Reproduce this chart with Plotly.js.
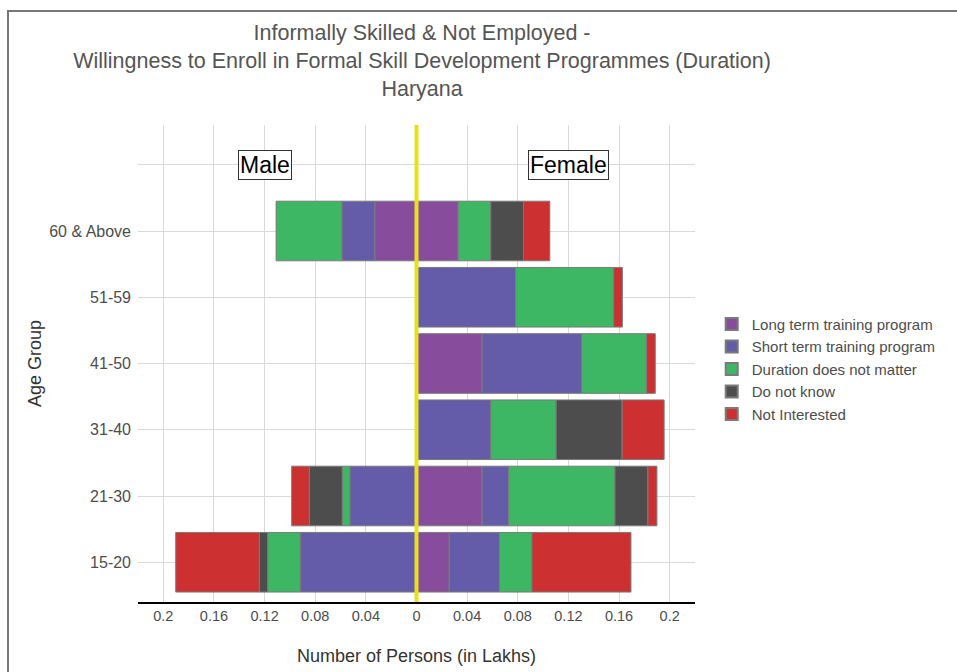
<!DOCTYPE html>
<html>
<head>
<meta charset="utf-8">
<script src="https://cdn.plot.ly/plotly-3.0.1.min.js"></script>
<style>
  html, body { margin: 0; padding: 0; background: #fff; }
  #wrap { position: relative; width: 957px; height: 672px; }
  #chart { position: absolute; left: 0; top: 0; width: 957px; height: 672px; }
  #frame { position: absolute; left: 7px; top: 10px; width: 950px; height: 662px;
           border-top: 2px solid #777; border-left: 2px solid #777; pointer-events: none; }
</style>
</head>
<body>
<div id="wrap">
  <div id="chart"></div>
  <div id="frame"></div>
</div>
<script>
// Age groups (bottom to top); last blank level holds the Male/Female labels
const ageGroups = ['15-20', '21-30', '31-40', '41-50', '51-59', '60 & Above', ' '];

const seriesNames = ['Long term training program', 'Short term training program',
                     'Duration does not matter', 'Do not know', 'Not Interested'];
const seriesColors = ['#884C9D', '#645CA8', '#3EB764', '#4D4D4D', '#CC3030'];

// Values in lakhs (null = no bar)
const maleLong     = [null,   null,   null, null, null, 0.0329];
const maleShort    = [0.0919, 0.0526, null, null, null, 0.0260];
const maleDuration = [0.0257, 0.0061, null, null, null, 0.0520];
const maleDNK      = [0.0066, 0.0260, null, null, null, null];
const maleNI       = [0.0660, 0.0139, null, null, null, null];

const femaleLong     = [0.0258, 0.0518, null,   0.0518, null,   0.0329];
const femaleShort    = [0.0397, 0.0208, 0.0587, 0.0787, 0.0782, null];
const femaleDuration = [0.0257, 0.0842, 0.0516, 0.0513, 0.0776, 0.0258];
const femaleDNK      = [null,   0.0260, 0.0521, null,   null,   0.0258];
const femaleNI       = [0.0782, 0.0071, 0.0332, 0.0068, 0.0068, 0.0208];

const maleSeries = [maleLong, maleShort, maleDuration, maleDNK, maleNI];
const femaleSeries = [femaleLong, femaleShort, femaleDuration, femaleDNK, femaleNI];

const tickVals = [-0.2, -0.16, -0.12, -0.08, -0.04, 0, 0.04, 0.08, 0.12, 0.16, 0.2];
const tickText = ['0.2', '0.16', '0.12', '0.08', '0.04', '0', '0.04', '0.08', '0.12', '0.16', '0.2'];

const yCats = ageGroups.slice(0, 6);
const traces = [];
seriesNames.forEach((name, i) => {
  traces.push({
    type: 'bar', orientation: 'h', name: name, legendgroup: name, showlegend: true,
    y: yCats, x: maleSeries[i].map(v => v === null ? null : -v),
    width: 0.9,
    marker: { color: seriesColors[i], line: { color: '#7A7A7A', width: 1 } },
    hoverinfo: 'skip'
  });
  traces.push({
    type: 'bar', orientation: 'h', name: name, legendgroup: name, showlegend: false,
    y: yCats, x: femaleSeries[i],
    width: 0.9,
    marker: { color: seriesColors[i], line: { color: '#7A7A7A', width: 1 } },
    hoverinfo: 'skip'
  });
});

const layout = {
  width: 957, height: 672,
  margin: { l: 138, r: 262, t: 125, b: 70 },
  paper_bgcolor: '#fff', plot_bgcolor: '#fff',
  barmode: 'relative', bargap: 0.1,
  font: { family: 'Liberation Sans, Arial, sans-serif', color: '#4D4D4D', size: 14 },
  title: {
    text: 'Informally Skilled & Not Employed -<br>Willingness to Enroll in Formal Skill Development Programmes (Duration)<br>Haryana',
    font: { size: 21.5, color: '#555' },
    xref: 'paper', x: 0.51, xanchor: 'center',
    yref: 'container', y: 0.94, yanchor: 'top'
  },
  xaxis: {
    range: [-0.22, 0.22], tickvals: tickVals, ticktext: tickText,
    showgrid: true, gridcolor: '#D9D9D9', gridwidth: 1, zeroline: false,
    showline: true, linecolor: '#000', linewidth: 1.5, ticks: '',
    tickfont: { size: 14.5, color: '#4D4D4D' },
    title: { text: 'Number of Persons (in Lakhs)', font: { size: 18, color: '#333' }, standoff: 26 },
    fixedrange: true
  },
  yaxis: {
    type: 'category', categoryorder: 'array', categoryarray: ageGroups,
    range: [-0.6, 6.6],
    showgrid: true, gridcolor: '#D9D9D9', gridwidth: 1, zeroline: false,
    showline: false, ticks: '', ticklabelstandoff: 6,
    tickfont: { size: 16, color: '#4D4D4D' },
    title: { text: 'Age Group', font: { size: 18, color: '#333' }, standoff: 2 },
    fixedrange: true
  },
  legend: {
    x: 1.03, xanchor: 'left', y: 0.488, yanchor: 'middle',
    font: { size: 15, color: '#4D4D4D' }, traceorder: 'normal',
    itemsizing: 'constant', tracegroupgap: 0
  },
  shapes: [{
    type: 'line', xref: 'x', yref: 'paper', x0: 0, x1: 0, y0: 0, y1: 1,
    line: { color: '#E8E01C', width: 4 }, layer: 'above'
  }],
  annotations: [
    { x: -0.12, y: 6, xref: 'x', yref: 'y', text: 'Male', showarrow: false,
      font: { size: 23, color: '#000' }, bgcolor: '#fff', bordercolor: '#333',
      borderwidth: 1, borderpad: 1 },
    { x: 0.12, y: 6, xref: 'x', yref: 'y', text: 'Female', showarrow: false,
      font: { size: 23, color: '#000' }, bgcolor: '#fff', bordercolor: '#333',
      borderwidth: 1, borderpad: 1 }
  ]
};

Plotly.newPlot('chart', traces, layout, { displayModeBar: false, staticPlot: true });
</script>
</body>
</html>
